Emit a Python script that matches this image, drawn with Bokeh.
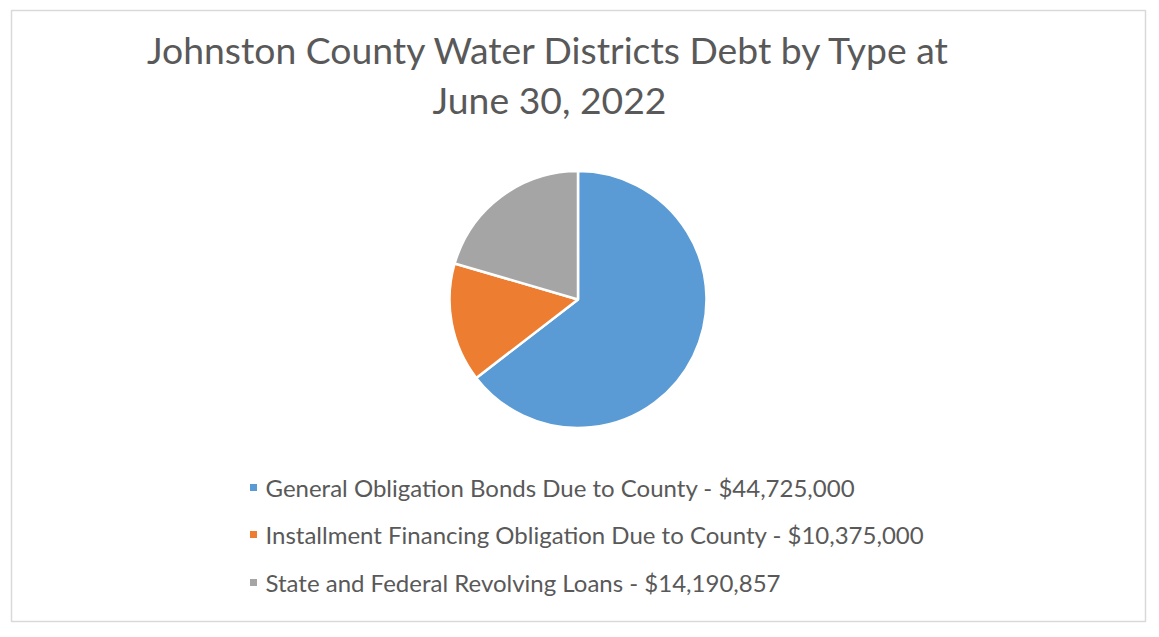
import math
from bokeh.plotting import figure
from bokeh.models import Range1d, ColumnDataSource
from bokeh.core.properties import value
from bokeh.embed import file_html
from bokeh.resources import INLINE

title_lines = ["Johnston County Water Districts Debt by Type at", "June 30, 2022"]
categories = ["General Obligation Bonds Due to County",
              "Installment Financing Obligation Due to County",
              "State and Federal Revolving Loans"]
amounts = [44725000, 10375000, 14190857]
colors = ["#5B9BD5", "#ED7D31", "#A5A5A5"]

FW, FH = 1134, 611
p = figure(width=1151, height=629, output_backend="svg", toolbar_location=None,
           x_range=Range1d(0, FW), y_range=Range1d(0, FH),
           min_border_left=11, min_border_right=6, min_border_top=10, min_border_bottom=8)
p.axis.visible = False
p.grid.visible = False
p.outline_line_color = "#D9D9D9"
p.outline_line_width = 1.5
p.background_fill_color = "white"
p.border_fill_color = "white"

# pie
total = sum(amounts)
starts, ends = [], []
a = math.pi / 2
for v in amounts:
    starts.append(a)
    a -= v / total * 2 * math.pi
    ends.append(a)
cx, cy, r = 566.5, 322, 128.5
src = ColumnDataSource(dict(s=starts, e=ends, c=colors))
p.wedge(x=cx, y=cy, radius=r, start_angle="s", end_angle="e", direction="clock",
        fill_color="c", line_color="white", line_width=2.5, source=src)

# title
p.text(x=[538, 538], y=[FH - 39, FH - 89], text=title_lines, text_align="center",
       text_baseline="middle", text_font=value("Lato"), text_font_size="37.3px",
       text_color="#595959")

# legend
labels = [f"{c} - ${v:,}" for c, v in zip(categories, amounts)]
ly = [621 - 487, 621 - 534, 621 - 582]
p.scatter(x=[242] * 3, y=ly, marker="square", size=7, fill_color=colors, line_color=None)
p.text(x=[254] * 3, y=ly, text=labels, text_align="left", text_baseline="middle",
       text_font=value("Lato"), text_font_size="24px", text_color="#595959")

open("out.html", "w").write(file_html(p, INLINE))
